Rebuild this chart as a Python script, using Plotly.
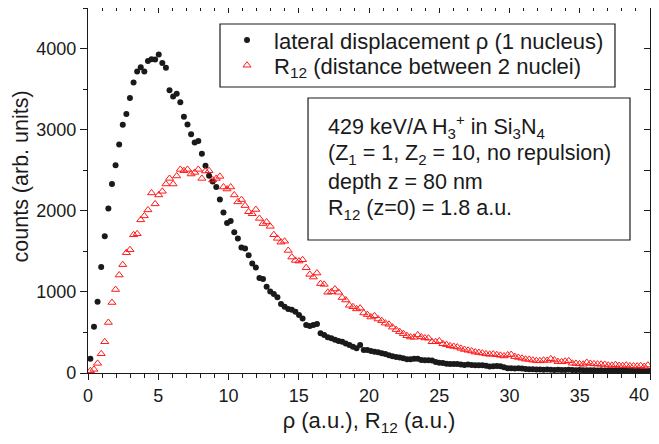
import numpy as np
import plotly.graph_objects as go

# histogram bin grid (a.u.)
BIN_START = 0.17
BIN_STEP = 0.256
N_BINS = 156

# lateral displacement rho (1 nucleus), counts
rho_counts = [
    176, 570, 878, 1308, 1686, 2027, 2330, 2560, 2818, 3060,
    3192, 3389, 3582, 3717, 3770, 3717, 3848, 3868, 3865, 3926,
    3823, 3762, 3487, 3409, 3442, 3339, 3159, 3064, 2945, 2843,
    2860, 2704, 2556, 2433, 2360, 2293, 2140, 1980, 1850, 1874,
    1735, 1658, 1547, 1535, 1452, 1350, 1300, 1170, 1160, 1062,
    1005, 975, 935, 850, 816, 790, 780, 755, 714, 673,
    591, 578, 591, 603, 490, 468, 440, 427, 410, 395,
    385, 365, 345, 324, 304, 345, 283, 283, 272, 262,
    255, 245, 234, 220, 207, 198, 192, 181, 170, 168,
    175, 175, 160, 158, 158, 155, 135, 125, 122, 115,
    110, 112, 110, 105, 100, 105, 98, 97, 95, 96,
    88, 80, 82, 86, 84, 72, 60, 58, 57, 58,
    55, 50, 46, 45, 43, 42, 41, 42, 40, 38,
    40, 37, 38, 39, 36, 35, 37, 34, 33, 35,
    33, 32, 34, 31, 30, 32, 30, 29, 31, 29,
    28, 30, 28, 27, 29, 28,
]

# R12 (distance between 2 nuclei), counts
r12_counts = [
    28, 45, 119, 237, 385, 623, 869, 1029, 1208, 1336,
    1483, 1520, 1704, 1716, 1888, 1937, 2011, 2220, 2085, 2195,
    2240, 2330, 2399, 2330, 2429, 2510, 2494, 2510, 2453, 2473,
    2510, 2399, 2490, 2494, 2380, 2399, 2424, 2293, 2268, 2293,
    2195, 2110, 2138, 2064, 1988, 1963, 2016, 1906, 1842, 1862,
    1808, 1705, 1660, 1613, 1625, 1511, 1429, 1388, 1380, 1396,
    1298, 1216, 1183, 1232, 1102, 1093, 995, 1000, 1035, 995,
    930, 900, 835, 816, 790, 800, 740, 720, 690, 705,
    665, 645, 615, 600, 565, 535, 510, 485, 460, 443,
    440, 470, 445, 432, 430, 385, 385, 395, 360, 350,
    335, 328, 320, 304, 290, 280, 271, 258, 252, 245,
    236, 230, 234, 225, 218, 210, 222, 228, 202, 192,
    182, 170, 168, 158, 152, 150, 158, 155, 175, 160,
    140, 138, 145, 150, 120, 118, 112, 108, 130, 118,
    112, 110, 108, 106, 96, 94, 102, 92, 90, 97,
    88, 86, 85, 90, 80, 97,
]

x_bins = BIN_START + BIN_STEP * np.arange(N_BINS)

x_range = [0, 40]
y_range = [0, 4500]
x_minor = 1
y_major, y_minor = 1000, 500
x_tick_vals = [0, 5, 10, 15, 20, 25, 30, 35, 40]
x_tick_text = ["0", "5", "10", "15", "20", "25", "30", "35", "40"]

legend_names = ["lateral displacement \u03c1 (1 nucleus)",
                "R<sub>12</sub> (distance between 2 nuclei)"]
info_lines = [
    "429 keV/A H<sub>3</sub><sup>+</sup> in Si<sub>3</sub>N<sub>4</sub>",
    "(Z<sub>1</sub> = 1, Z<sub>2</sub> = 10, no repulsion)",
    "depth z = 80 nm",
    "R<sub>12</sub> (z=0) = 1.8 a.u.",
]
x_title = "\u03c1 (a.u.), R<sub>12</sub> (a.u.)"
y_title = "counts (arb. units)"

FONT = "Liberation Sans, Arial, sans-serif"
TXT = "#1a1a1a"
AX = "#1a1a1a"

fig = go.Figure()
fig.add_trace(go.Scatter(
    x=x_bins, y=rho_counts, mode="markers", name=legend_names[0],
    legend="legend",
    marker=dict(symbol="circle", size=6, color="#1a1a1a", line=dict(width=0)),
))
fig.add_trace(go.Scatter(
    x=x_bins, y=r12_counts, mode="markers", name=legend_names[1],
    xaxis="x2", yaxis="y2", legend="legend2",
    marker=dict(symbol="triangle-up-open", size=7, color="#ff1a1a", line=dict(width=1)),
))

axis_common = dict(showgrid=False, zeroline=False, showline=True,
                   linecolor=AX, linewidth=1.3, tickcolor=AX, tickwidth=1.2)

leg_common = dict(xanchor="left", yanchor="middle", bgcolor="rgba(0,0,0,0)",
                  borderwidth=0, itemwidth=44,
                  font=dict(family=FONT, size=22, color=TXT))

# the last x label is drawn separately, nudged left so it stays in the window
shown_tick_text = x_tick_text[:-1] + [""]

fig.update_layout(
    width=643, height=428,
    margin=dict(l=80, r=1, t=0, b=63),
    paper_bgcolor="white", plot_bgcolor="white",
    font=dict(family=FONT, color=TXT, size=18),
    showlegend=True,
    legend=dict(x=0.2349, y=0.912, **leg_common),
    legend2=dict(x=0.2349, y=0.8426, **leg_common),
    xaxis=dict(range=x_range, ticks="outside", tickmode="array",
               tickvals=x_tick_vals, ticktext=shown_tick_text,
               ticklen=6, tickfont=dict(size=18),
               minor=dict(dtick=x_minor, tick0=0, ticks="outside", ticklen=4,
                          tickcolor=AX),
               title=dict(text=x_title, font=dict(size=22), standoff=10),
               **axis_common),
    yaxis=dict(range=y_range, ticks="outside", dtick=y_major, tick0=0,
               ticklen=7, tickfont=dict(size=18),
               minor=dict(dtick=y_minor, ticks="outside", ticklen=4,
                          tickcolor=AX),
               **axis_common),
    xaxis2=dict(range=x_range, overlaying="x", side="top", ticks="inside",
                tickmode="array", tickvals=x_tick_vals, ticklen=5,
                showticklabels=False,
                minor=dict(dtick=x_minor, tick0=0, ticks="inside", ticklen=3,
                           tickcolor=AX),
                **axis_common),
    yaxis2=dict(range=y_range, overlaying="y", side="right", ticks="inside",
                dtick=y_minor, tick0=0, ticklen=6, showticklabels=False,
                **axis_common),
)

# last x tick label
fig.add_annotation(text=x_tick_text[-1], xref="paper", yref="paper",
                   x=1.0018, y=0, xanchor="right", yanchor="middle",
                   yshift=-22, showarrow=False,
                   font=dict(family=FONT, size=18, color=TXT))

# y-axis title
fig.add_annotation(text=y_title, xref="paper", yref="paper",
                   x=-0.1175, y=0.5384, textangle=-90, showarrow=False,
                   xanchor="center", yanchor="middle",
                   font=dict(family=FONT, size=21.5, color=TXT))

# legend frame
fig.add_shape(type="rect", xref="paper", yref="paper",
              x0=0.2349, x1=0.9377, y0=0.7836, y1=0.9562,
              line=dict(color=AX, width=1.2), fillcolor="white",
              layer="below")

# info box
fig.add_shape(type="rect", xref="paper", yref="paper",
              x0=0.3915, x1=0.9644, y0=0.3644, y1=0.7534,
              line=dict(color=AX, width=1.2), fillcolor="white",
              layer="above")
line_y = [0.674, 0.5973, 0.5233, 0.4493]
for txt, yy in zip(info_lines, line_y):
    fig.add_annotation(text=txt, xref="paper", yref="paper", x=0.4235, y=yy,
                       xanchor="left", yanchor="middle", showarrow=False,
                       font=dict(family=FONT, size=21.5, color=TXT))

fig.write_html("out.html")
